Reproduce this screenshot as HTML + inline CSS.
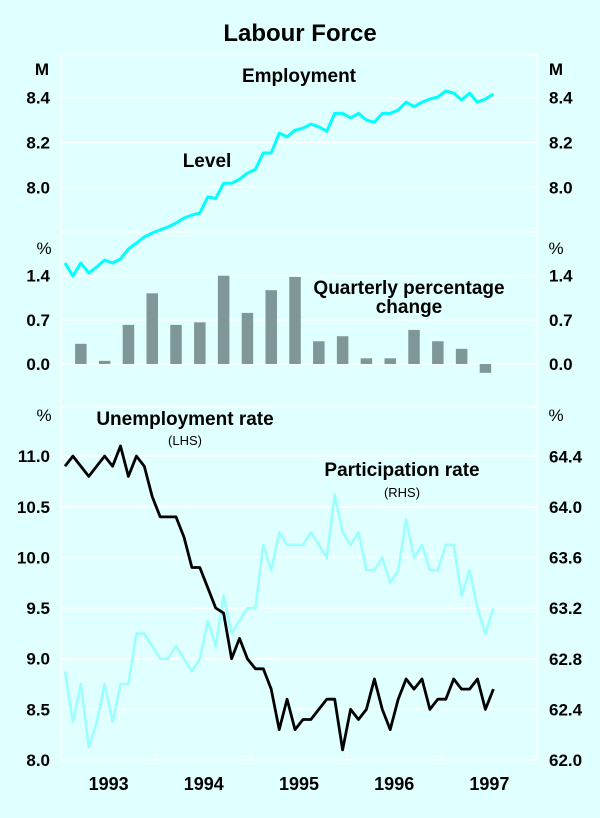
<!DOCTYPE html>
<html><head><meta charset="utf-8"><style>
html,body{margin:0;padding:0;background:#e0ffff;}
svg{display:block;font-family:"Liberation Sans",Arial,sans-serif;}
</style></head><body>
<svg width="600" height="818" viewBox="0 0 600 818" xmlns="http://www.w3.org/2000/svg">
<rect x="0" y="0" width="600" height="818" fill="#e0ffff"/>
<g id="grid"></g>
<g id="marks"></g>
<g id="labels" font-weight="bold" fill="#000">
<text x="300" y="41" text-anchor="middle" font-size="24">Labour Force</text>
<text x="42" y="75" text-anchor="middle" font-size="17">M</text>
<text x="556" y="75" text-anchor="middle" font-size="17">M</text>
<text x="299" y="82" text-anchor="middle" font-size="19">Employment</text>
<text x="207" y="167" text-anchor="middle" font-size="19">Level</text>
<text x="44" y="254" text-anchor="middle" font-size="17" font-weight="normal">%</text>
<text x="556" y="254" text-anchor="middle" font-size="17" font-weight="normal">%</text>
<text x="409" y="294" text-anchor="middle" font-size="19">Quarterly percentage</text>
<text x="409" y="313" text-anchor="middle" font-size="19">change</text>
<text x="44" y="421" text-anchor="middle" font-size="17" font-weight="normal">%</text>
<text x="556" y="421" text-anchor="middle" font-size="17" font-weight="normal">%</text>
<text x="185" y="425" text-anchor="middle" font-size="19">Unemployment rate</text>
<text x="185" y="445" text-anchor="middle" font-size="13" font-weight="normal">(LHS)</text>
<text x="402" y="476" text-anchor="middle" font-size="19">Participation rate</text>
<text x="402" y="497" text-anchor="middle" font-size="13" font-weight="normal">(RHS)</text>
</g>
</svg>
<script>
const empLevel=[7.662,7.604,7.662,7.617,7.644,7.675,7.662,7.68,7.724,7.751,7.778,7.796,7.81,7.823,7.84,7.863,7.876,7.885,7.957,7.95,8.018,8.018,8.036,8.063,8.08,8.153,8.153,8.242,8.225,8.255,8.264,8.282,8.27,8.25,8.33,8.33,8.31,8.33,8.30,8.29,8.33,8.33,8.345,8.38,8.36,8.38,8.394,8.403,8.43,8.42,8.39,8.42,8.38,8.394,8.416];
const qtrChange=[0.32,0.05,0.62,1.12,0.62,0.66,1.4,0.81,1.17,1.38,0.36,0.44,0.09,0.09,0.54,0.36,0.24,-0.14];
const unempRate=[10.9,11.0,10.9,10.8,10.9,11.0,10.9,11.1,10.8,11.0,10.9,10.6,10.4,10.4,10.4,10.2,9.9,9.9,9.7,9.5,9.45,9.0,9.2,9.0,8.9,8.9,8.7,8.3,8.6,8.3,8.4,8.4,8.5,8.6,8.6,8.1,8.5,8.4,8.5,8.8,8.5,8.3,8.6,8.8,8.7,8.8,8.5,8.6,8.6,8.8,8.7,8.7,8.8,8.5,8.7];
const partRate=[62.7,62.3,62.6,62.1,62.3,62.6,62.3,62.6,62.6,63.0,63.0,62.9,62.8,62.8,62.9,62.8,62.7,62.8,63.1,62.9,63.3,63.0,63.1,63.2,63.2,63.7,63.5,63.8,63.7,63.7,63.7,63.8,63.7,63.6,64.1,63.8,63.7,63.8,63.5,63.5,63.6,63.4,63.5,63.9,63.6,63.7,63.5,63.5,63.7,63.7,63.3,63.5,63.2,63.0,63.2];
const empTicks=["8.0","8.2","8.4"];
const qtrTicks=["0.0","0.7","1.4"];
const unempTicks=["8.0","8.5","9.0","9.5","10.0","10.5","11.0"];
const partTicks=["62.0","62.4","62.8","63.2","63.6","64.0","64.4"];
const years=["1993","1994","1995","1996","1997"];

const NS="http://www.w3.org/2000/svg";
const L=61,R=537,monthW=(R-L)/60;
const xMonth=i=>L+(i+0.5)*monthW;
const yEmp=v=>97.7+(8.4-v)*224;
const yQtr=v=>364-v*63.1;
const yUn=v=>760-(v-8)*101.3;
const yPart=v=>760-(v-62)*126.5;
function mk(tag,attrs,parent){const e=document.createElementNS(NS,tag);for(const k in attrs)e.setAttribute(k,attrs[k]);parent.appendChild(e);return e;}
const grid=document.getElementById('grid'),marks=document.getElementById('marks'),labels=document.getElementById('labels');
const gl=[55,yEmp(8.4),yEmp(8.2),yEmp(8.0),232,yQtr(1.4),yQtr(0.7),yQtr(0),407];
unempTicks.forEach(t=>gl.push(yUn(+t)));
gl.forEach(y=>{const l=mk('line',{x1:L,x2:R,y1:y,y2:y,stroke:'#fff','stroke-width':1.5},grid);

});
[L,R].forEach(x=>{const l=mk('line',{x1:x,x2:x,y1:55,y2:760,stroke:'#fff','stroke-width':1.5},grid);

});
for(let k=1;k<5;k++){const x=L+k*12*monthW;const t=mk('line',{x1:x,x2:x,y1:750,y2:760,stroke:'#fff','stroke-width':1.5},grid);

}
function tick(txt,x,y,anchor,name){const t=mk('text',{x:x,y:y+6,'text-anchor':anchor,'font-size':17},labels);t.textContent=txt;

}
empTicks.forEach(t=>{tick(t,50,yEmp(+t),'end','left-emp-tick');tick(t,549,yEmp(+t),'start','right-emp-tick');});
qtrTicks.forEach(t=>{tick(t,50,yQtr(+t),'end','left-qtr-tick');tick(t,549,yQtr(+t),'start','right-qtr-tick');});
unempTicks.forEach(t=>tick(t,50,yUn(+t),'end','unemp-tick'));
partTicks.forEach(t=>tick(t,549,yPart(+t),'start','part-tick'));
years.forEach((y,k)=>{const t=mk('text',{x:L+(k+0.5)*12*monthW,y:790,'text-anchor':'middle','font-size':18},labels);t.textContent=y;

});
qtrChange.forEach((v,q)=>{const cx=xMonth(2+3*q);const y0=yQtr(0),y1=yQtr(v);
const b=mk('rect',{x:cx-5.75,y:Math.min(y0,y1),width:11.5,height:Math.abs(y1-y0),fill:'#7f9797'},marks);

});
function line(arr,yf,color,w,name){const d=arr.map((v,i)=>(i?'L':'M')+xMonth(i).toFixed(1)+','+yf(v).toFixed(1)).join('');
const p=mk('path',{d:d,fill:'none',stroke:color,'stroke-width':w,'stroke-linejoin':'round'},marks);

}
line(partRate,yPart,'#99ffff',2.5,'participation-rate-line');
line(unempRate,yUn,'#000',2.8,'unemployment-rate-line');
line(empLevel,yEmp,'#00ffff',3,'employment-level-line');
</script>
</body></html>
